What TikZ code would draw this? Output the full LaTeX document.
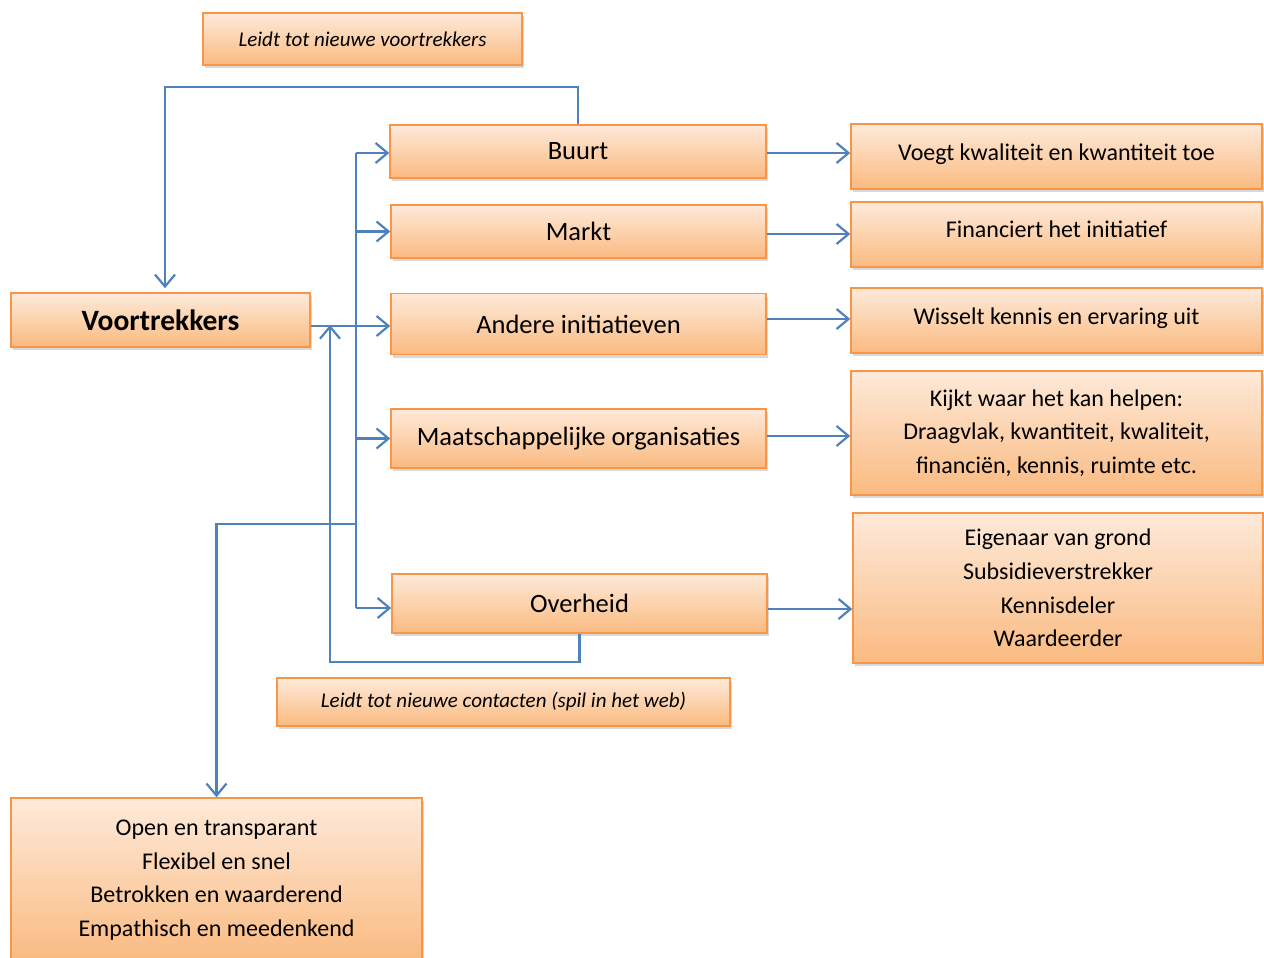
\documentclass[tikz,border=0pt]{standalone}
\usepackage{fontspec}
\setmainfont{Carlito}
\usetikzlibrary{arrows.meta,shadows,calc}
\definecolor{boxtop}{RGB}{254,234,218}
\definecolor{boxbot}{RGB}{250,186,128}
\definecolor{boxline}{RGB}{247,150,70}
\definecolor{conncol}{RGB}{79,129,189}
\begin{document}
\begin{tikzpicture}[x=1pt,y=-1pt,
  box/.style={draw=boxline, line width=1.5pt, top color=boxtop, bottom color=boxbot,
    drop shadow={opacity=0.3, shadow xshift=2pt, shadow yshift=-3pt},
    align=center, inner sep=0pt, font=\fontsize{26.5}{33}\selectfont},
  sidebox/.style={box, font=\fontsize{24}{33.6}\selectfont},
  notebox/.style={box, font=\fontsize{21}{24}\selectfont\itshape},
  conn/.style={draw=conncol, line width=2.2pt},
  arr/.style={conn, -{Straight Barb[length=12pt,width=20pt,line width=2.2pt]}}]
\useasboundingbox (0,0) rectangle (1264,958);

% nodes
\node[notebox, minimum width=319pt, minimum height=52pt] (top) at (362.5,39) {Leidt tot nieuwe voortrekkers};
\node[box, font=\fontsize{29.5}{33}\selectfont\bfseries, minimum width=299pt, minimum height=54pt] (voort) at (160.5,320) {Voortrekkers};
\node[box, minimum width=376pt, minimum height=53pt] (buurt) at (578,151.5) {Buurt};
\node[box, minimum width=375pt, minimum height=53pt] (markt) at (578.5,231.5) {Markt};
\node[box, minimum width=375pt, minimum height=61pt] (andere) at (578.5,324) {Andere initiatieven};
\node[box, minimum width=375pt, minimum height=59pt] (maats) at (578.5,438.5) {Maatschappelijke organisaties};
\node[box, minimum width=375pt, minimum height=59pt] (overheid) at (579.5,603.5) {Overheid};

\node[sidebox, minimum width=411pt, minimum height=65pt] (voegt) at (1056.5,156.5) {\raisebox{8pt}{Voegt kwaliteit en kwantiteit toe}};
\node[sidebox, minimum width=411pt, minimum height=65pt] (fin) at (1056.5,234.5) {\raisebox{10pt}{Financiert het initiatief}};
\node[sidebox, minimum width=411pt, minimum height=65pt] (wiss) at (1056.5,320.5) {\raisebox{8pt}{Wisselt kennis en ervaring uit}};
\node[sidebox, minimum width=411pt, minimum height=124pt] (kijkt) at (1056.5,433) {Kijkt waar het kan helpen:\\Draagvlak, kwantiteit, kwaliteit,\\financiën, kennis, ruimte etc.};
\node[sidebox, minimum width=410pt, minimum height=150pt] (eig) at (1058,588) {Eigenaar van grond\\Subsidieverstrekker\\Kennisdeler\\Waardeerder};

\node[notebox, minimum width=453pt, minimum height=48pt] (contact) at (503.5,702) {Leidt tot nieuwe contacten (spil in het web)};
\node[sidebox, minimum width=411pt, minimum height=164pt] (bottom) at (216.5,880) {Open en transparant\\Flexibel en snel\\Betrokken en waarderend\\Empathisch en meedenkend};

% coordinates
\coordinate (trunkTop) at (356,153);
\coordinate (trunkBot) at (356,608);
\coordinate (br) at (356,524);
\coordinate (topL) at (165,87);
\coordinate (loopL) at (330,662);

% trunk and branches
\draw[conn] (trunkTop) -- (trunkBot);
\draw[arr] (trunkTop) -- (buurt.west |- trunkTop);
\draw[arr] (trunkTop |- markt.west) -- (markt.west);
\draw[arr] (trunkTop |- maats.west) -- (maats.west);
\draw[arr] (trunkBot) -- (overheid.west |- trunkBot);
\draw[arr] (voort.east |- 0,326) -- (andere.west |- 0,326);
\draw[arr] (br) -| (bottom.north);

% loops
\draw[arr, shorten >=4pt] (buurt.north) |- (topL) -- (topL |- voort.north);
\draw[arr, shorten >=-1pt] (overheid.south) |- (loopL) -- (loopL |- 0,326);

% right arrows
\draw[arr] (buurt.east |- trunkTop) -- (voegt.west |- trunkTop);
\draw[arr] (markt.east |- 0,234) -- (fin.west |- 0,234);
\draw[arr] (andere.east |- 0,319) -- (wiss.west |- 0,319);
\draw[arr] (maats.east |- 0,436) -- (kijkt.west |- 0,436);
\draw[arr] (overheid.east |- 0,609) -- (eig.west |- 0,609);
\end{tikzpicture}
\end{document}
